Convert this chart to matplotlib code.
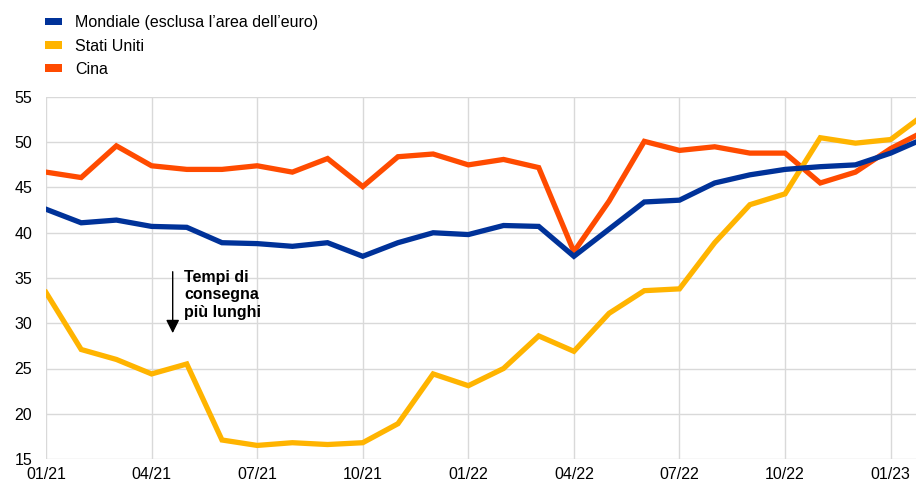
import matplotlib
matplotlib.use("Agg")
import matplotlib.pyplot as plt
from matplotlib.patches import Patch

plt.rcParams['font.family'] = ['Liberation Sans', 'DejaVu Sans']

months = ["01/21", "02/21", "03/21", "04/21", "05/21", "06/21", "07/21", "08/21", "09/21",
          "10/21", "11/21", "12/21", "01/22", "02/22", "03/22", "04/22", "05/22", "06/22",
          "07/22", "08/22", "09/22", "10/22", "11/22", "12/22", "01/23", "02/23"]
mondiale = [42.6, 41.1, 41.4, 40.7, 40.6, 38.9, 38.8, 38.5, 38.9, 37.4, 38.9, 40.0,
            39.8, 40.8, 40.7, 37.4, 40.4, 43.4, 43.6, 45.5, 46.4, 47.0, 47.3, 47.5,
            48.8, 50.5]
stati_uniti = [33.4, 27.1, 26.0, 24.4, 25.5, 17.1, 16.5, 16.8, 16.6, 16.8, 18.9, 24.4,
               23.1, 25.0, 28.6, 26.9, 31.1, 33.6, 33.8, 38.9, 43.1, 44.3, 50.5, 49.9,
               50.3, 53.2]
cina = [46.7, 46.1, 49.6, 47.4, 47.0, 47.0, 47.4, 46.7, 48.2, 45.1, 48.4, 48.7,
        47.5, 48.1, 47.2, 37.9, 43.5, 50.1, 49.1, 49.5, 48.8, 48.8, 45.5, 46.7,
        49.3, 51.3]
series_names = ["Mondiale (esclusa l\u2019area dell\u2019euro)", "Stati Uniti", "Cina"]
colors = ["#003299", "#FFB400", "#FF4B00"]
tick_labels = ["01/21", "04/21", "07/21", "10/21", "01/22", "04/22", "07/22", "10/22", "01/23"]
yticks = [15, 20, 25, 30, 35, 40, 45, 50, 55]

FS = 11.5

fig = plt.figure(figsize=(9.16, 4.84), dpi=100)
ax = fig.add_axes([46/916, 1 - 459/484, 1 - 46/916, (459 - 97)/484])

x = list(range(len(months)))
for vals, c in zip([mondiale, stati_uniti, cina][::-1], colors[::-1]):
    ax.plot(x, vals, color=c, lw=3.8, solid_joinstyle='miter', zorder=3)

ax.set_xlim(0, 24.72)
ax.set_ylim(15, 55)
tick_pos = [months.index(t) for t in tick_labels]
ax.set_xticks(tick_pos)
ax.set_xticklabels(tick_labels, fontsize=FS)
ax.set_yticks(yticks)
ax.set_yticklabels([str(v) for v in yticks], fontsize=FS)
ax.tick_params(axis='x', length=0, pad=6)
ax.tick_params(axis='y', length=0, pad=10)
ax.grid(True, color="#d9d9d9", lw=1)
for s in ax.spines.values():
    s.set_visible(False)
ax.set_axisbelow(True)

# annotation arrow
ax.annotate("", xy=(3.6, 28.6), xytext=(3.6, 36.0),
            arrowprops=dict(arrowstyle="-|>", color="black", lw=1, mutation_scale=20))
ax.text(3.92, 35.9, "Tempi di\nconsegna\npiù lunghi", fontsize=FS, fontweight='bold',
        va='top', ha='left', linespacing=1.22)

handles = [Patch(facecolor=c, edgecolor='none') for c in colors]
fig.legend(handles, series_names, loc='upper left', bbox_to_anchor=(39/916, 1 - 9/484),
           frameon=False, fontsize=FS, handlelength=1.05, handleheight=0.35,
           handletextpad=0.8, labelspacing=0.52, borderaxespad=0)

fig.savefig("out.png", dpi=100)
